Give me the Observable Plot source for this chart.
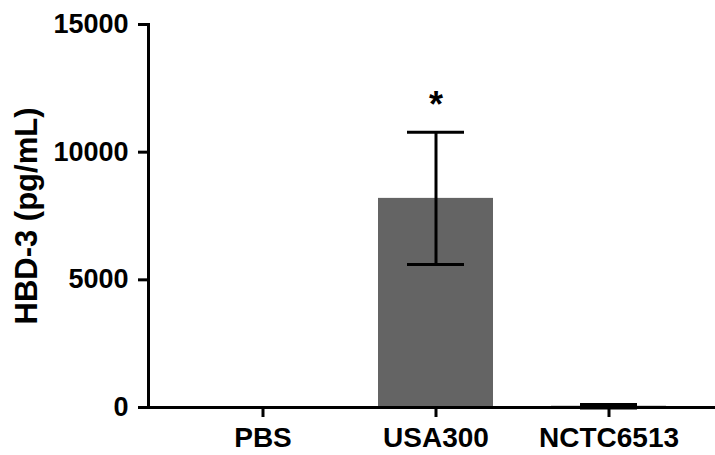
<!DOCTYPE html>
<html>
<head>
<meta charset="utf-8">
<script src="https://cdn.jsdelivr.net/npm/d3@7"></script>
<script src="https://cdn.jsdelivr.net/npm/@observablehq/plot@0.6"></script>
<style>
  html, body { margin: 0; padding: 0; background: #fff; }
  #chart svg { display: block; }
</style>
</head>
<body>
<div id="chart"></div>
<script>
const groups = ["PBS", "USA300", "NCTC6513"];
const means = [0, 8190, 50];
const errors = [0, 2590, 70];
const yTicks = [0, 5000, 10000, 15000];
const yLabel = "HBD-3 (pg/mL)";
const significance = ["", "*", ""];

const data = groups.map((g, i) => ({
  group: g, mean: means[i], lo: means[i] - errors[i], hi: means[i] + errors[i], sig: significance[i]
}));
const withErr = data.filter(d => d.hi > d.mean);

const font = "'Liberation Sans', Arial, Helvetica, sans-serif";

const chart = Plot.plot({
  width: 715,
  height: 455,
  marginLeft: 148,
  marginRight: 0,
  marginTop: 24,
  marginBottom: 48,
  style: { fontFamily: font, fontWeight: "bold", color: "#000", background: "#fff" },
  x: { domain: groups, range: [175, 697], paddingInner: 0.333, paddingOuter: 0.1667, label: null },
  y: { domain: [0, 15000], label: null },
  marks: [
    Plot.barY(data, { x: "group", y: "mean", fill: "#646464" }),
    Plot.ruleX(withErr, { x: "group", y1: "lo", y2: "hi", stroke: "#000", strokeWidth: 3 }),
    Plot.tickY(withErr, { x: "group", y: "hi", stroke: "#000", strokeWidth: 3, insetLeft: 29, insetRight: 29 }),
    Plot.tickY(withErr, { x: "group", y: "lo", stroke: "#000", strokeWidth: 3, insetLeft: 29, insetRight: 29 }),
    Plot.text(data.filter(d => d.sig), { x: "group", y: "hi", text: "sig", dy: -27, fontSize: 36, fontWeight: "bold", fill: "#000" }),
    Plot.ruleY([0], { stroke: "#000", strokeWidth: 3 }),
    Plot.frame({ anchor: "left", stroke: "#000", strokeWidth: 3 }),
    Plot.axisY({ ticks: yTicks, tickFormat: d => String(d), tickSize: 10, tickPadding: 10, fontSize: 27, fontWeight: "bold", strokeWidth: 3, label: null }),
    Plot.axisX({ tickSize: 10, tickPadding: 10, fontSize: 28, fontWeight: "bold", strokeWidth: 3, label: null }),
    Plot.text([yLabel], { frameAnchor: "left", textAnchor: "middle", dx: -121, rotate: -90, fontSize: 31, fontWeight: "bold", fill: "#000" })
  ]
});
document.getElementById("chart").appendChild(chart);
</script>
</body>
</html>
